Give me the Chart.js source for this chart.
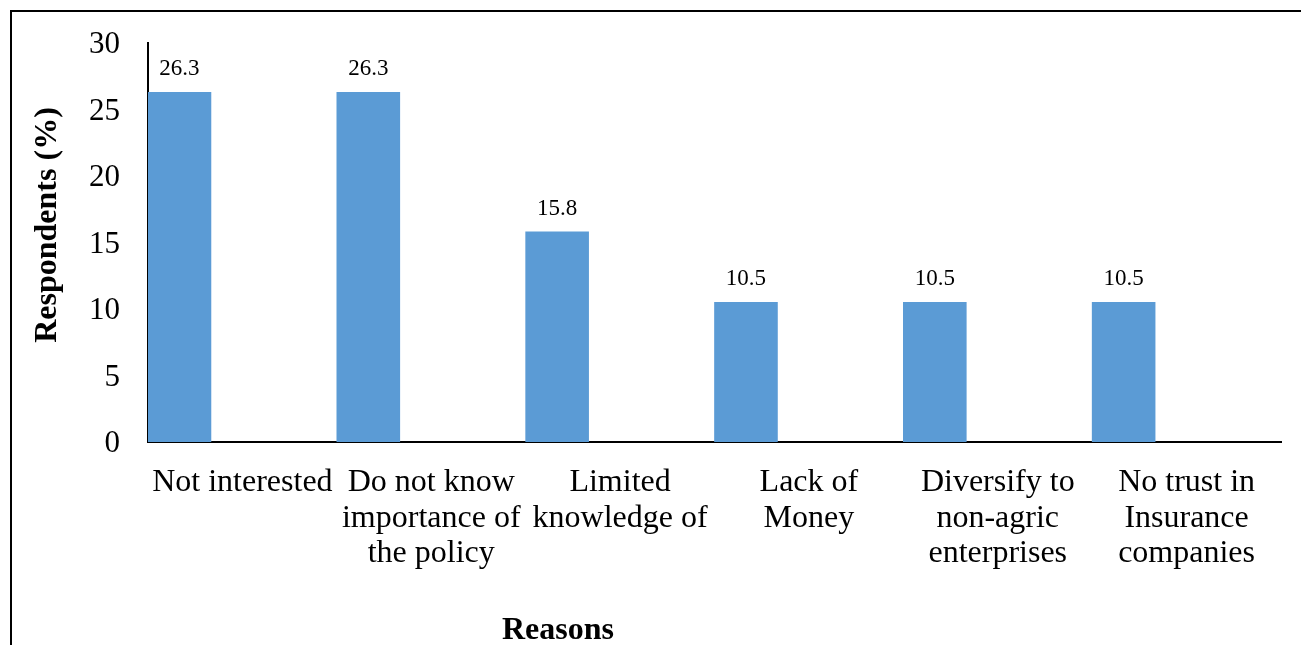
<!DOCTYPE html>
<html>
<head>
<meta charset="utf-8">
<script src="https://cdn.jsdelivr.net/npm/chart.js@4.4.1/dist/chart.umd.min.js"></script>
<style>
  html, body { margin: 0; padding: 0; background: #fff; }
  #wrap { position: relative; width: 1301px; height: 645px; overflow: hidden; }
  #frame { position: absolute; left: 10px; top: 10px; width: 1300px; height: 700px;
           border-left: 2px solid #000; border-top: 2px solid #000; pointer-events: none; }
  #xtitle { position: absolute; left: 408px; width: 300px; top: 610px; text-align: center;
            font: bold 32px/36px "Liberation Serif", "Times New Roman", serif; color: #000; }
</style>
</head>
<body>
<div id="wrap">
  <canvas id="chart" width="1301" height="645"></canvas>
  <div id="frame"></div>
  <div id="xtitle">Reasons</div>
</div>
<script>
// ── Data ─────────────────────────────────────────────────────────────────────
const categories = [
    'Not interested',
    ['Do not know', 'importance of', 'the policy'],
    ['Limited', 'knowledge of'],
    ['Lack of', 'Money'],
    ['Diversify to', 'non-agric', 'enterprises'],
    ['No trust in', 'Insurance', 'companies']
];
const respondents = [26.3, 26.3, 15.8, 10.5, 10.5, 10.5];
const emptySeries = [null, null, null, null, null, null];
const yTicks      = [0, 5, 10, 15, 20, 25, 30];

const SERIF = '"Liberation Serif", "Times New Roman", serif';

// ── Plugins ──────────────────────────────────────────────────────────────────
const valueLabels = {
    id: 'valueLabels',
    afterDatasetsDraw(chart) {
        const ctx = chart.ctx;
        const meta = chart.getDatasetMeta(0);
        ctx.save();
        ctx.font = `23px ${SERIF}`;
        ctx.fillStyle = '#000';
        ctx.textAlign = 'center';
        ctx.textBaseline = 'alphabetic';
        meta.data.forEach((bar, i) => {
            ctx.fillText(respondents[i].toFixed(1), bar.x, bar.y - 17);
        });
        ctx.restore();
    }
};

const yTitle = {
    id: 'yTitle',
    afterDraw(chart) {
        const ctx = chart.ctx;
        ctx.save();
        ctx.translate(48, 225);
        ctx.rotate(-Math.PI / 2);
        ctx.font = `bold 32px ${SERIF}`;
        ctx.fillStyle = '#000';
        ctx.textAlign = 'center';
        ctx.textBaseline = 'middle';
        ctx.fillText('Respondents (%)', 0, 0);
        ctx.restore();
    }
};

// ── Chart ────────────────────────────────────────────────────────────────────
new Chart(document.getElementById('chart').getContext('2d'), {
    type: 'bar',
    data: {
        labels: categories,
        datasets: [
            { label: 'Respondents', data: respondents, backgroundColor: '#5B9BD5' },
            { label: 'pad1', data: emptySeries, backgroundColor: '#5B9BD5' },
            { label: 'pad2', data: emptySeries, backgroundColor: '#5B9BD5' }
        ]
    },
    options: {
        responsive: false,
        animation: false,
        events: [],
        layout: { padding: { top: 43, right: 20, left: 0, bottom: 0 } },
        datasets: { bar: { categoryPercentage: 1, barPercentage: 1 } },
        plugins: { legend: { display: false }, tooltip: { enabled: false } },
        scales: {
            x: {
                grid: { display: false, drawTicks: false },
                border: { display: true, color: '#000', width: 2 },
                ticks: {
                    color: '#000', font: { family: SERIF, size: 32, lineHeight: 1.11 },
                    padding: 23, maxRotation: 0, autoSkip: false
                },
                afterFit(scale) { scale.height = 203; }
            },
            y: {
                min: 0, max: 30,
                afterBuildTicks(scale) { scale.ticks = yTicks.map(v => ({ value: v })); },
                grid: { display: false, drawTicks: false },
                border: { display: true, color: '#000', width: 2 },
                ticks: { color: '#000', font: { family: SERIF, size: 31 }, padding: 28, labelOffset: 2 },
                afterFit(scale) {
                    scale.width = 148;
                    scale.paddingTop = 0;
                    scale.paddingBottom = 0;
                }
            }
        }
    },
    plugins: [valueLabels, yTitle]
});
</script>
</body>
</html>
